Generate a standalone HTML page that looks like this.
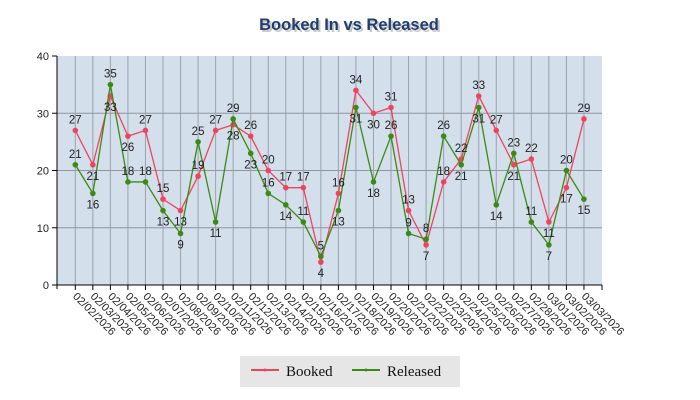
<!DOCTYPE html>
<html><head><meta charset="utf-8"><style>
html,body{margin:0;padding:0;background:#fff;width:700px;height:400px;overflow:hidden}
svg text{font-family:"Liberation Sans","DejaVu Sans",sans-serif}
</style></head><body>
<svg id="c" width="700" height="400" xmlns="http://www.w3.org/2000/svg">
<text x="349" y="30" text-anchor="middle" font-size="16.5" font-weight="bold" fill="#c8c8c8" transform="translate(2,2)">Booked In vs Released</text>
<text x="349" y="30" text-anchor="middle" font-size="16.5" font-weight="bold" fill="#1f3d6e">Booked In vs Released</text>
<rect x="57" y="56" width="545" height="229" fill="#d3dfeb"/>
<g id="g"></g>
<rect x="240" y="356" width="220" height="31" fill="#e6e6e6"/>
<line x1="251" y1="370" x2="279" y2="370" stroke="#f0435f" stroke-width="2"/>
<circle cx="265" cy="370" r="1.5" fill="#f0435f"/>
<text x="286" y="376" font-size="15" style="font-family:'Liberation Serif',serif" fill="#111">Booked</text>
<line x1="352" y1="370" x2="380" y2="370" stroke="#3a8a14" stroke-width="2"/>
<circle cx="366" cy="370" r="1.5" fill="#3a8a14"/>
<text x="387" y="376" font-size="15" style="font-family:'Liberation Serif',serif" fill="#111">Released</text>
</svg>
<script>
var b=[27,21,33,26,27,15,13,19,27,28,26,20,17,17,4,16,34,30,31,13,7,18,22,33,27,21,22,11,17,29];
var r=[21,16,35,18,18,13,9,25,11,29,23,16,14,11,5,13,31,18,26,9,8,26,21,31,14,23,11,7,20,15];
var bp="abbbaabaabaaaabaabaabaaaababba";
var rp="abaaabbabababaabbbaaaabbbaabab";
var g=document.getElementById('g'),h='';
function X(i){return 75.3+i*17.54}function Y(v){return 285-v*5.725}
for(var v=10;v<40;v+=10)h+='<line x1="57" x2="602" y1="'+Y(v)+'" y2="'+Y(v)+'" stroke="#8e96a0" stroke-width="1"/>';
for(var i=0;i<30;i++)h+='<line x1="'+X(i)+'" x2="'+X(i)+'" y1="56" y2="285" stroke="#9aa2ac" stroke-width="1"/>';
h+='<line x1="57" x2="57" y1="56" y2="289" stroke="#000"/><line x1="53" x2="602" y1="285" y2="285" stroke="#000"/>';
for(var v=0;v<=40;v+=10){h+='<line x1="52" x2="57" y1="'+Y(v)+'" y2="'+Y(v)+'" stroke="#000"/><text x="49" y="'+(Y(v)+4)+'" text-anchor="end" font-size="11" fill="#222">'+v+'</text>';}
h+='<line x1="602" x2="602" y1="285" y2="290" stroke="#000"/>';
function pl(a,c){var p=a.map(function(v,i){return X(i)+','+Y(v)}).join(' ');var s='<polyline points="'+p+'" fill="none" stroke="'+c+'" stroke-width="1.3"/>';a.forEach(function(v,i){s+='<circle cx="'+X(i)+'" cy="'+Y(v)+'" r="2.8" fill="'+c+'"/>'});return s;}
h+=pl(b,'#f0435f')+pl(r,'#3a8a14');
for(var i=0;i<30;i++){
 h+='<text x="'+X(i)+'" y="'+(bp[i]=='a'?Y(b[i])-7:Y(b[i])+15)+'" text-anchor="middle" font-size="11.5" fill="#222">'+b[i]+'</text>';
 h+='<text x="'+X(i)+'" y="'+(rp[i]=='a'?Y(r[i])-7:Y(r[i])+15)+'" text-anchor="middle" font-size="11.5" fill="#222">'+r[i]+'</text>';
 h+='<line x1="'+X(i)+'" x2="'+X(i)+'" y1="285" y2="290" stroke="#000"/>';
 var d=new Date(2026,1,2+i),lab=('0'+(d.getMonth()+1)).slice(-2)+'/'+('0'+d.getDate()).slice(-2)+'/2026';
 h+='<text x="'+(X(i)-3)+'" y="297" font-size="11" fill="#222" transform="rotate(45 '+(X(i)-3)+' 297)">'+lab+'</text>';
}
g.innerHTML=h;
</script>
</body></html>
